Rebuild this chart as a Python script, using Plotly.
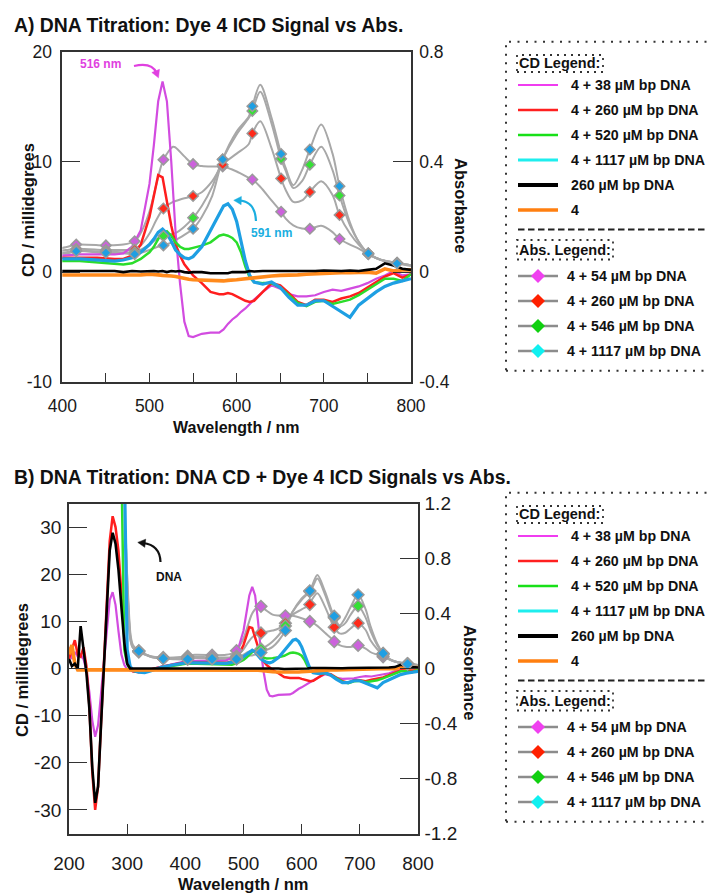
import plotly.graph_objects as go

W, H = 708, 894
FONT = "Arial, 'Liberation Sans', Helvetica, sans-serif"

# ---------------- data ----------------
cd_wl = [200, 205, 210, 215, 220, 225, 230, 235, 240, 245, 250, 255, 260, 265, 270, 275, 280, 285, 290, 295, 300,
         305, 310, 320, 330, 340,
         360, 380, 400, 420, 440, 460, 470, 480, 490, 500,
         505, 510, 515, 520, 525, 530, 535, 540, 545, 550,
         560, 570, 580, 585, 590, 595, 600, 605, 610, 615, 620,
         630, 640, 650, 660, 670, 680, 690, 700, 710, 720, 730, 740, 750, 760, 770, 780, 790, 800]

cd_38 = [4.5, 2.0, 3.5, 2.5, 3.0, 2.0, -0.5, -5.0, -11.0, -14.5, -12.0, -5.0, 2.0, 9.0, 14.5, 16.2, 13.5, 8.0, 3.0, 0.8, -0.2,
         -0.4, -0.6, -0.7, -0.5, -0.2,
         0.4, 1.0, 1.5, 1.6, 1.6, 1.6, 1.7, 2.3, 3.8, 8.0,
         11.5, 15.5, 17.3, 15.5, 10.0, 3.5, -1.0, -4.5, -5.8, -5.9,
         -5.6, -5.5, -5.5, -5.2, -4.7, -4.3, -4.0, -3.6, -3.3, -2.9, -2.5,
         -1.8, -1.2, -1.5, -2.0, -2.2, -2.2, -2.1, -1.8, -1.6, -1.7, -1.5, -1.3, -1.0, -0.6, -0.3, 0.1, -0.3, -0.2]

cd_260 = [2.0, 4.0, 6.0, 3.0, 2.5, 4.5, 0.5, -8.0, -22.0, -30.0, -25.0, -12.0, 0.0, 14.0, 27.0, 32.3, 30.0, 25.0, 16.0, 7.0, 1.5,
          0.0, -0.6, -0.8, -0.6, -0.2,
          0.4, 0.9, 1.3, 1.3, 1.3, 1.2, 1.2, 1.5, 2.5, 5.0,
          7.0, 8.8, 8.6, 6.5, 4.2, 2.5, 1.5, 0.7, 0.2, -0.3,
          -1.0, -1.8, -2.0, -2.0, -1.9, -2.0, -2.2, -2.4, -2.6, -2.7, -2.6,
          -1.8, -1.0, -1.2, -1.9, -2.7, -3.0, -2.5, -2.5, -2.7, -2.4, -2.2, -1.9, -1.4, -0.9, -0.4, -0.1, -0.5, -0.2]

cd_520 = [None] * 18 + [45.0, 4.0, 1.0,
          -0.2, -0.5, -0.7, -0.6, -0.3,
          0.2, 0.6, 1.0, 1.0, 0.9, 0.8, 0.7, 0.8, 1.2, 1.8,
          2.3, 3.0, 3.5, 3.7, 3.3, 2.7, 2.3, 2.1, 2.1, 2.2,
          2.4, 2.7, 3.3, 3.4, 3.3, 3.1, 2.7, 1.8, 0.5, -0.5, -0.9,
          -1.0, -1.0, -1.4, -2.1, -2.8, -3.1, -2.7, -2.6, -2.9, -2.7, -2.5, -2.1, -1.6, -1.1, -0.6, -0.6, -0.8, -0.2]

cd_1117 = [None] * 19 + [45.0, 4.0,
           0.5, -0.4, -0.8, -0.9, -0.5,
           0.3, 0.8, 1.2, 1.2, 1.1, 1.0, 1.1, 1.3, 1.8, 2.5,
           3.0, 3.6, 3.9, 3.5, 2.8, 2.0, 1.6, 1.3, 1.2, 1.4,
           2.3, 3.8, 5.4, 6.0, 6.2, 5.7, 4.6, 2.8, 1.0, -0.3, -0.9,
           -1.1, -0.9, -1.4, -2.3, -3.0, -3.0, -2.6, -2.6, -3.1, -3.6, -4.1, -3.0, -2.4, -1.8, -1.3, -1.0, -0.8, -0.6]

cd_dna = [2.0, 0.5, 1.0, 0.0, 9.0, 4.0, -1.0, -8.5, -21.0, -28.5, -25.0, -12.0, 1.0, 13.0, 25.0, 28.8, 26.5, 21.0, 13.0, 5.5, 1.0,
          0.0, 0.0, 0.0, 0.0, 0.0,
          0.0, 0.05, 0.1, 0.1, 0.05, 0.1, 0.0, 0.1, 0.05, 0.1,
          0.1, 0.05, 0.1, 0.0, 0.1, 0.05, 0.1, 0.0, -0.05, 0.0,
          0.0, -0.1, -0.1, -0.05, -0.1, 0.0, 0.0, 0.05, 0.0, 0.1, 0.05,
          0.1, 0.1, 0.05, 0.1, 0.05, 0.1, 0.1, 0.15, 0.1, 0.1, 0.15, 0.1, 0.2, 0.3, 0.8, 0.6, 0.3, 0.2]

cd_dye = [3.0, 5.0, 1.0] + [-0.3] * 18 + [
          -0.3, -0.3, -0.3, -0.3, -0.3,
          -0.3, -0.3, -0.25, -0.25, -0.3, -0.25, -0.3, -0.25, -0.25, -0.2,
          -0.2, -0.25, -0.3, -0.3, -0.35, -0.4, -0.5, -0.55, -0.65, -0.7,
          -0.75, -0.8, -0.8, -0.8, -0.75, -0.75, -0.7, -0.65, -0.6, -0.55, -0.5,
          -0.4, -0.35, -0.3, -0.3, -0.25, -0.2, -0.15, -0.1, -0.1, -0.05, -0.05, 0.0, 0.0, -0.1, 0.3, 0.1, 0.2, 0.2]

abs_wl = [298, 302, 306, 310, 320, 340, 362, 380, 404, 416, 446, 450, 470, 483, 488, 500,
          508, 516, 527, 530, 540, 550, 560, 572, 584, 600, 614, 618, 627, 640, 651, 656,
          665, 675, 684, 697, 710, 718, 730, 740, 751, 765, 782, 784, 800]

abs_54 = [0.60, 0.35, 0.20, 0.15, 0.12, 0.09, 0.08, 0.08, 0.09, 0.10, 0.097, 0.097, 0.10, 0.112, 0.13, 0.22,
          0.32, 0.408, 0.455, 0.452, 0.42, 0.392, 0.385, 0.383, 0.383, 0.365, 0.342, 0.336, 0.31, 0.26, 0.219, 0.195,
          0.17, 0.158, 0.157, 0.168, 0.145, 0.12, 0.10, 0.085, 0.065, 0.045, 0.035, 0.034, 0.025]

abs_260 = [0.80, 0.45, 0.22, 0.16, 0.125, 0.09, 0.075, 0.075, 0.08, 0.085, 0.08, 0.08, 0.08, 0.082, 0.09, 0.14,
           0.19, 0.231, 0.255, 0.258, 0.268, 0.276, 0.29, 0.33, 0.39, 0.43, 0.465, 0.503, 0.548, 0.45, 0.34, 0.30,
           0.255, 0.26, 0.291, 0.33, 0.28, 0.207, 0.14, 0.10, 0.068, 0.045, 0.035, 0.034, 0.025]

abs_546 = [0.88, 0.50, 0.24, 0.17, 0.13, 0.085, 0.072, 0.07, 0.072, 0.078, 0.075, 0.075, 0.072, 0.072, 0.078, 0.10,
           0.12, 0.131, 0.14, 0.142, 0.165, 0.197, 0.24, 0.31, 0.41, 0.50, 0.56, 0.585, 0.655, 0.54, 0.411, 0.37,
           0.305, 0.33, 0.39, 0.455, 0.37, 0.278, 0.17, 0.11, 0.066, 0.045, 0.034, 0.033, 0.025]

abs_1117 = [0.92, 0.45, 0.20, 0.15, 0.127, 0.085, 0.072, 0.068, 0.067, 0.076, 0.07, 0.07, 0.068, 0.065, 0.068, 0.08,
            0.09, 0.097, 0.11, 0.116, 0.135, 0.157, 0.20, 0.277, 0.409, 0.51, 0.565, 0.602, 0.68, 0.56, 0.429, 0.38,
            0.315, 0.37, 0.445, 0.536, 0.43, 0.312, 0.18, 0.11, 0.068, 0.045, 0.032, 0.031, 0.022]

abs_marker_wl_A = [416, 450, 483, 516, 550, 584, 618, 651, 684, 718, 751, 784]
abs_marker_wl_B = [320, 362, 404, 446, 488, 530, 572, 614, 656, 697, 740, 782]

cd_labels = ["4 + 38 µM bp DNA", "4 + 260 µM bp DNA", "4 + 520 µM bp DNA",
             "4 + 1117 µM bp DNA", "260 µM bp DNA", "4"]
abs_labels = ["4 + 54 µM bp DNA", "4 + 260 µM bp DNA", "4 + 546 µM bp DNA", "4 + 1117 µM bp DNA"]

ticks_A_left = [-10, 0, 10, 20]
ticks_A_right = [-0.4, 0, 0.4, 0.8]
ticks_A_x = [400, 450, 500, 550, 600, 650, 700, 750, 800]
ticks_B_left = [-30, -20, -10, 0, 10, 20, 30]
ticks_B_right = [-1.2, -0.8, -0.4, 0, 0.4, 0.8, 1.2]
ticks_B_x = [200, 300, 400, 500, 600, 700, 800]

# ---------------- styles ----------------
cd_series = [cd_38, cd_260, cd_520, cd_1117, cd_dye, cd_dna]
cd_colors = ['#D24CE0', '#FF1E1E', '#2BDD2B', '#1E9FE3', '#FF8A1C', '#000000']
cd_widths = [2.2, 2.5, 2.5, 3.2, 3.6, 2.6]
abs_series = [abs_54, abs_260, abs_546, abs_1117]
abs_fill = ['#CC62DC', '#FF2A1A', '#35E035', '#1E9FE3']
cd_leg_colors = ['#F03CF0', '#FF2020', '#18E018', '#1EEEEE', '#000000', '#FF7F10']
cd_leg_widths = [2, 2.3, 2.6, 3, 4, 3.5]
abs_leg_colors = ['#F040F0', '#FF2000', '#10D010', '#10F0F0']


def fx(px):
    return px / W


def fy(py):
    return 1 - py / H


fig = go.Figure()

panels = [
    dict(x='x', ya='y', yc='y2', ym='y3', mk=abs_marker_wl_A, msize=8),
    dict(x='x2', ya='y4', yc='y5', ym='y6', mk=abs_marker_wl_B, msize=9),
]
for p in panels:
    for vals in abs_series:
        fig.add_trace(go.Scatter(x=abs_wl, y=vals, xaxis=p['x'], yaxis=p['ya'], mode='lines',
                                 line=dict(color='#A8A8A8', width=2, shape='spline', smoothing=0.9),
                                 hoverinfo='skip'))
    for vals, c, w in zip(cd_series, cd_colors, cd_widths):
        fig.add_trace(go.Scatter(x=cd_wl, y=vals, xaxis=p['x'], yaxis=p['yc'], mode='lines',
                                 line=dict(color=c, width=w), connectgaps=False, hoverinfo='skip'))
    idx = [abs_wl.index(w) for w in p['mk']]
    for vals, c in zip(abs_series, abs_fill):
        fig.add_trace(go.Scatter(x=[abs_wl[i] for i in idx], y=[vals[i] for i in idx],
                                 xaxis=p['x'], yaxis=p['ym'], mode='markers',
                                 marker=dict(symbol='diamond', size=p['msize'], color=c,
                                             line=dict(color='#9A9A9A', width=1.5)),
                                 hoverinfo='skip'))

AX = dict(showgrid=False, zeroline=False, showline=True, linecolor='#333', linewidth=1.5,
          ticks='inside', tickcolor='#333', tickwidth=1.4, automargin=False)


def fmt(v):
    return '%g' % v


layout = dict(
    width=W, height=H, margin=dict(l=0, r=0, t=0, b=0, pad=0, autoexpand=False),
    autosize=False,
    paper_bgcolor='white', plot_bgcolor='white', showlegend=False,
    font=dict(family=FONT, color='#1a1a1a'),
    xaxis=dict(AX, domain=[fx(62.3), fx(411)], anchor='y', range=[400, 800], mirror=True,
               tickvals=ticks_A_x, ticktext=[str(v) if v % 100 == 0 else '' for v in ticks_A_x],
               ticklen=10, tickfont=dict(size=17.5), ticklabelstandoff=7),
    yaxis=dict(AX, domain=[fy(382.3), fy(51.7)], anchor='x', side='right', range=[-0.4, 0.8],
               tickvals=ticks_A_right, ticktext=[fmt(v) for v in ticks_A_right], ticklen=18,
               tickfont=dict(size=17.5), ticklabelstandoff=3),
    yaxis2=dict(AX, overlaying='y', anchor='x', side='left', range=[-10, 20],
                tickvals=ticks_A_left, ticktext=[fmt(v) for v in ticks_A_left], ticklen=18,
                tickfont=dict(size=17.5), ticklabelstandoff=5),
    yaxis3=dict(overlaying='y', anchor='x', range=[-0.4, 0.8], visible=False, automargin=False),
    xaxis2=dict(AX, domain=[fx(69), fx(418)], anchor='y4', range=[200, 800], mirror=True,
                tickvals=ticks_B_x, ticktext=[str(v) for v in ticks_B_x],
                ticklen=10, tickfont=dict(size=19), ticklabelstandoff=12),
    yaxis4=dict(AX, domain=[fy(833.5), fy(503.5)], anchor='x2', side='right', range=[-1.2, 1.2],
                tickvals=ticks_B_right, ticktext=[fmt(v) for v in ticks_B_right], ticklen=18,
                tickfont=dict(size=19), ticklabelstandoff=1),
    yaxis5=dict(AX, overlaying='y4', anchor='x2', side='left', range=[-35, 35],
                tickvals=ticks_B_left, ticktext=[fmt(v) for v in ticks_B_left], ticklen=18,
                tickfont=dict(size=19), ticklabelstandoff=2),
    yaxis6=dict(overlaying='y4', anchor='x2', range=[-1.2, 1.2], visible=False, automargin=False),
)

shapes = []
annotations = []


def text(x, y, s, size, color='#111', xanchor='left', angle=0, bold=True):
    annotations.append(dict(x=fx(x), y=fy(y), xref='paper', yref='paper',
                            text=('<b>%s</b>' % s) if bold else s, showarrow=False,
                            xanchor=xanchor, yanchor='middle', textangle=angle,
                            font=dict(family=FONT, size=size, color=color), borderpad=0))


def line(x0, y0, x1, y1, color, width, dash='solid'):
    shapes.append(dict(type='line', xref='paper', yref='paper', x0=fx(x0), y0=fy(y0), x1=fx(x1), y1=fy(y1),
                       line=dict(color=color, width=width, dash=dash)))


def rect(x0, y0, x1, y1, color, width, dash):
    shapes.append(dict(type='rect', xref='paper', yref='paper', x0=fx(x0), y0=fy(y1), x1=fx(x1), y1=fy(y0),
                       line=dict(color=color, width=width, dash=dash), fillcolor='rgba(0,0,0,0)'))


def diamond(cx, cy, r, color):
    pts = [(cx - r, cy), (cx, cy - r), (cx + r, cy), (cx, cy + r)]
    path = 'M ' + ' L '.join('%f,%f' % (fx(a), fy(b)) for a, b in pts) + ' Z'
    shapes.append(dict(type='path', xref='paper', yref='paper', path=path, fillcolor=color,
                       line=dict(width=0)))


def curved_arrow(p0, c, p1, color, width=2.2, head=7.5):
    path = 'M %f,%f Q %f,%f %f,%f' % (fx(p0[0]), fy(p0[1]), fx(c[0]), fy(c[1]), fx(p1[0]), fy(p1[1]))
    shapes.append(dict(type='path', xref='paper', yref='paper', path=path,
                       line=dict(color=color, width=width)))
    dx, dy = p1[0] - c[0], p1[1] - c[1]
    n = (dx * dx + dy * dy) ** 0.5
    dx, dy = dx / n, dy / n
    tip = (p1[0] + dx * head * 0.7, p1[1] + dy * head * 0.7)
    base = (p1[0] - dx * head * 0.3, p1[1] - dy * head * 0.3)
    px_, py_ = -dy, dx
    a = (base[0] + px_ * head * 0.55, base[1] + py_ * head * 0.55)
    b = (base[0] - px_ * head * 0.55, base[1] - py_ * head * 0.55)
    pth = 'M %f,%f L %f,%f L %f,%f Z' % (fx(tip[0]), fy(tip[1]), fx(a[0]), fy(a[1]), fx(b[0]), fy(b[1]))
    shapes.append(dict(type='path', xref='paper', yref='paper', path=pth, fillcolor=color,
                       line=dict(color=color, width=0.5)))


# titles
text(13, 25, 'A) DNA Titration: Dye 4 ICD Signal vs Abs.', 19.4, '#111')
text(13, 477, 'B) DNA Titration: DNA CD + Dye 4 ICD Signals vs Abs.', 19.4, '#111')

# axis titles
text(236.5, 427, 'Wavelength / nm', 16, '#111', xanchor='center')
text(28, 210, 'CD / millidegrees', 16.5, '#111', xanchor='center', angle=-90)
text(461, 205, 'Absorbance', 16.5, '#111', xanchor='center', angle=90)
text(243.5, 884, 'Wavelength / nm', 16.5, '#111', xanchor='center')
text(22, 670, 'CD / millidegrees', 16.5, '#111', xanchor='center', angle=-90)
text(470, 672, 'Absorbance', 16.5, '#111', xanchor='center', angle=90)

# in-plot annotations
text(100, 64, '516 nm', 12, '#E040E0', xanchor='center')
curved_arrow((134, 66), (152, 62), (156.5, 73), '#E040E0')
text(271, 233.5, '591 nm', 12, '#1AAEE0', xanchor='center')
curved_arrow((256, 221), (255, 201), (239, 200.5), '#1AAEE0')
text(169, 577, 'DNA', 12, '#111', xanchor='center')
curved_arrow((160.5, 562), (160, 545), (143, 543), '#111')


def draw_legend(dy):
    rect(506, 41.7 + dy, 735, 370.7 + dy, '#333', 2, '2px,6.5px')
    rect(517, 55 + dy, 603, 72 + dy, '#333', 1.8, '2px,5px')
    text(518, 63 + dy, 'CD Legend:', 14.5, '#111')
    for i, (lbl, c, w) in enumerate(zip(cd_labels, cd_leg_colors, cd_leg_widths)):
        y = 85 + 25 * i + dy
        line(518, y, 558, y, c, w)
        text(570, y, lbl, 14.2, '#111')
    line(518, 229.5 + dy, 735, 229.5 + dy, '#222', 2, '6.5px,3.5px')
    rect(517, 240 + dy, 613, 259.5 + dy, '#333', 1.8, '2px,5px')
    text(518, 250 + dy, 'Abs. Legend:', 14.5, '#111')
    for i, (lbl, c) in enumerate(zip(abs_labels, abs_leg_colors)):
        y = 276 + 25 * i + dy
        line(518, y, 558, y, '#8C8C8C', 2.5)
        diamond(538, y, 7, c)
        text(566, y, lbl, 14.2, '#111')


draw_legend(0)
draw_legend(451)

layout['shapes'] = shapes
layout['annotations'] = annotations
fig.update_layout(**layout)
fig.write_html('out.html', config={'displayModeBar': False},
               post_script="document.body.style.margin='0px';document.body.style.overflow='hidden';")
